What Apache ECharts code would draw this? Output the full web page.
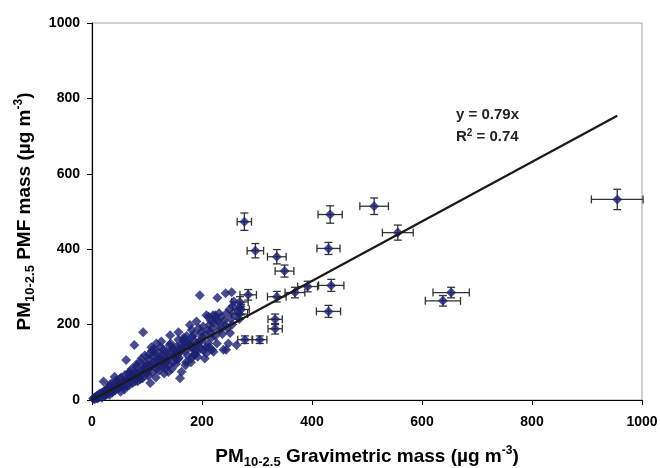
<!DOCTYPE html>
<html>
<head>
<meta charset="utf-8">
<script src="https://cdn.jsdelivr.net/npm/echarts@6/dist/echarts.min.js"></script>
<style>html,body{margin:0;padding:0;background:#fff}#c{width:660px;height:468px}</style>
</head>
<body>
<div id="c"></div>
<script>
// Dense cluster of daily samples (gravimetric, PMF)
const cluster = [
[2,3],[4,6],[5,2],[6,8],[8,5],[9,11],[10,4],[11,9],[12,14],[13,7],[14,12],[15,18],[16,10],[17,15],[18,6],[19,20],[20,13],[21,49],[22,17],[23,24],[24,11],[25,20],[26,28],[27,15],[28,22],[29,33],[30,18],[30,26],
[33,40],[31,23],[36,30],[32,14],[38,36],[34,26],[35,44],[41,31],[37,20],[43,38],[41,62],[39,30],[46,45],[42,25],[49,40],[44,52],[47,34],[52,22],[45,46],[55,38],[51,56],[48,30],[57,48],[50,40],[53,60],[59,28],[56,50],[54,42],[60,66],[58,35],
[63,52],[62,106],[61,45],[67,58],[64,38],[66,70],[70,55],[65,48],[73,62],[69,75],[68,40],[76,58],[71,66],[79,50],[72,82],[75,60],[77,146],[82,70],[74,45],[80,88],[85,62],[78,74],[88,55],[81,95],[84,68],[91,80],[83,50],[87,100],[94,72],[86,62],[97,86],[90,110],[93,180],[89,76],[99,92],[92,58],[96,118],[95,84],[100,70],[98,98],
[101,78],[103,120],[102,64],[107,92],[104,108],[106,45],[109,130],[105,86],[112,100],[110,74],[108,140],[115,96],[111,115],[118,82],[114,124],[116,60],[121,106],[113,135],[119,90],[124,112],[117,150],[122,78],[127,100],[120,125],[129,88],[125,140],[123,108],[131,70],[128,118],[133,96],[126,155],[135,128],[130,133],[134,85],[138,110],[132,97],[141,145],[136,118],[139,74],[144,128],[137,105],[142,172],[147,138],[140,92],[149,120],[143,150],[152,110],[145,82],[150,132],[148,100],
[154,141],[151,118],[157,160],[153,96],[160,130],[156,108],[157,180],[162,145],[155,122],[160,58],[165,135],[158,112],[163,75],[168,155],[161,128],[166,159],[171,100],[164,140],[174,118],[167,165],[170,92],[177,148],[169,130],[180,110],[172,170],[183,138],[175,152],[178,199],[186,120],[180,100],[181,186],[176,145],[189,132],[184,160],[192,115],[186,175],[179,140],[195,155],[188,125],[190,208],[182,168],[198,136],[191,150],[194,190],[187,120],[200,168],[196,278],[193,145],[198,180],[203,132],[199,158],
[202,195],[207,140],[205,110],[206,172],[208,124],[208,225],[211,150],[210,185],[214,200],[212,221],[217,165],[213,140],[215,181],[216,210],[218,133],[221,128],[219,190],[220,225],[224,170],[222,205],[224,225],[227,150],[226,215],[228,271],[229,208],[232,185],[231,230],[233,195],[235,220],[237,175],[239,133],[240,210],[242,199],[244,133],[243,283],[245,230],[246,190],[248,150],[250,240],[251,178],[252,215],[254,286],[255,200],[256,250],[258,261],[260,225],[263,146],[265,238],[268,215],[270,248]
];

// Samples with error bars
const ebX    = [277, 433, 513, 556, 297, 336, 430, 350, 435, 392, 369, 336, 284, 430, 333, 333, 269, 271, 268, 278, 305, 955, 653, 638];
const ebY    = [473, 492, 514, 444, 396, 380, 402, 342, 304, 301, 285, 274, 279, 235, 214, 189, 260, 240, 228, 160, 160, 532, 285, 263];
const ebXErr = [13, 22, 26, 28, 15, 17, 21, 17, 23, 18, 18, 17, 15, 22, 13, 13, 15, 15, 15, 13, 13, 47, 33, 32];
const ebYErr = [23, 23, 22, 20, 19, 19, 16, 16, 16, 14, 14, 14, 14, 16, 14, 14, 14, 14, 14, 10, 10, 27, 14, 14];

// Regression line y = 0.79x
const trendLine = [[0, 0], [955, 754]];

const xTicks = [0, 200, 400, 600, 800, 1000];
const yTicks = [0, 200, 400, 600, 800, 1000];

const FONT = 'Liberation Sans, Arial, sans-serif';
const MARK = '#1c2072';

const ebData = ebX.map((x, i) => [x, ebY[i], ebXErr[i], ebYErr[i]]);
const ebPts = ebX.map((x, i) => [x, ebY[i]]);

const nameRich = {
  b:   {fontFamily: FONT, fontWeight: 'bold', fontSize: 19, lineHeight: 24, color: '#000'},
  sub: {fontFamily: FONT, fontWeight: 'bold', fontSize: 13, lineHeight: 13, verticalAlign: 'bottom', color: '#000'},
  sup: {fontFamily: FONT, fontWeight: 'bold', fontSize: 12, lineHeight: 12, verticalAlign: 'top', color: '#000'}
};

const chart = echarts.init(document.getElementById('c'), null, {renderer: 'canvas'});
chart.setOption({
  animation: false,
  backgroundColor: '#fff',
  grid: {left: 92, right: 18, top: 23, bottom: 68, outerBoundsMode: 'none', containLabel: false,
         show: true, borderColor: '#a0a0a0', borderWidth: 1, backgroundColor: 'transparent'},
  xAxis: {
    type: 'value', min: xTicks[0], max: xTicks[xTicks.length - 1], interval: 200,
    axisLine: {show: true, onZero: false, lineStyle: {color: '#000', width: 1.2}},
    axisTick: {show: true, inside: false, length: 5, lineStyle: {color: '#000'}},
    splitLine: {show: false},
    axisLabel: {fontFamily: FONT, fontWeight: 'bold', fontSize: 14, color: '#000', margin: 15, formatter: v => String(v)},
    name: '{b|PM}{sub|10-2.5}{b| Gravimetric mass (µg m}{sup|-3}{b|)}',
    nameLocation: 'middle', nameGap: 45,
    nameTextStyle: {rich: nameRich}
  },
  yAxis: {
    type: 'value', min: yTicks[0], max: yTicks[yTicks.length - 1], interval: 200,
    axisLine: {show: true, onZero: false, lineStyle: {color: '#000', width: 1.2}},
    axisTick: {show: true, inside: false, length: 5, lineStyle: {color: '#000'}},
    splitLine: {show: false},
    axisLabel: {fontFamily: FONT, fontWeight: 'bold', fontSize: 14, color: '#000', margin: 12, formatter: v => String(v)},
    name: '{b|PM}{sub|10-2.5}{b| PMF mass (µg m}{sup|-3}{b|)}',
    nameLocation: 'middle', nameGap: 55, nameRotate: 90,
    nameTextStyle: {rich: nameRich}
  },
  series: [
    {
      type: 'custom', z: 1, silent: true,
      data: ebData,
      renderItem: function (params, api) {
        const x = api.value(0), y = api.value(1), ex = api.value(2), ey = api.value(3);
        const c = api.coord([x, y]);
        const l = api.coord([x - ex, y]), r = api.coord([x + ex, y]);
        const t = api.coord([x, y + ey]), b = api.coord([x, y - ey]);
        const cap = 4;
        const st = {stroke: '#333', lineWidth: 1.3};
        const seg = (x1, y1, x2, y2) => ({type: 'line', shape: {x1, y1, x2, y2}, style: st});
        return {type: 'group', children: [
          seg(l[0], c[1], r[0], c[1]),
          seg(l[0], c[1] - cap, l[0], c[1] + cap),
          seg(r[0], c[1] - cap, r[0], c[1] + cap),
          seg(c[0], t[1], c[0], b[1]),
          seg(c[0] - cap, t[1], c[0] + cap, t[1]),
          seg(c[0] - cap, b[1], c[0] + cap, b[1])
        ]};
      }
    },
    {
      type: 'scatter', z: 2, symbol: 'diamond', symbolSize: 10,
      itemStyle: {color: MARK}, data: cluster
    },
    {
      type: 'scatter', z: 3, symbol: 'diamond', symbolSize: 10,
      itemStyle: {color: MARK}, data: ebPts
    },
    {
      type: 'line', z: 4, data: trendLine, showSymbol: false, symbol: 'none',
      lineStyle: {color: '#1a1a1a', width: 2.2}
    }
  ],
  graphic: [
    {type: 'text', left: 456, top: 107, style: {text: 'y = 0.79x', font: 'bold 15px ' + FONT, fill: '#222'}},
    {type: 'text', left: 456, top: 128, style: {
      text: '{b|R}{s|2}{b| = 0.74}',
      rich: {
        b: {font: 'bold 15px ' + FONT, fill: '#222', lineHeight: 18},
        s: {font: 'bold 10px ' + FONT, fill: '#222', lineHeight: 10, verticalAlign: 'top'}
      }
    }}
  ]
});
</script>
</body>
</html>
